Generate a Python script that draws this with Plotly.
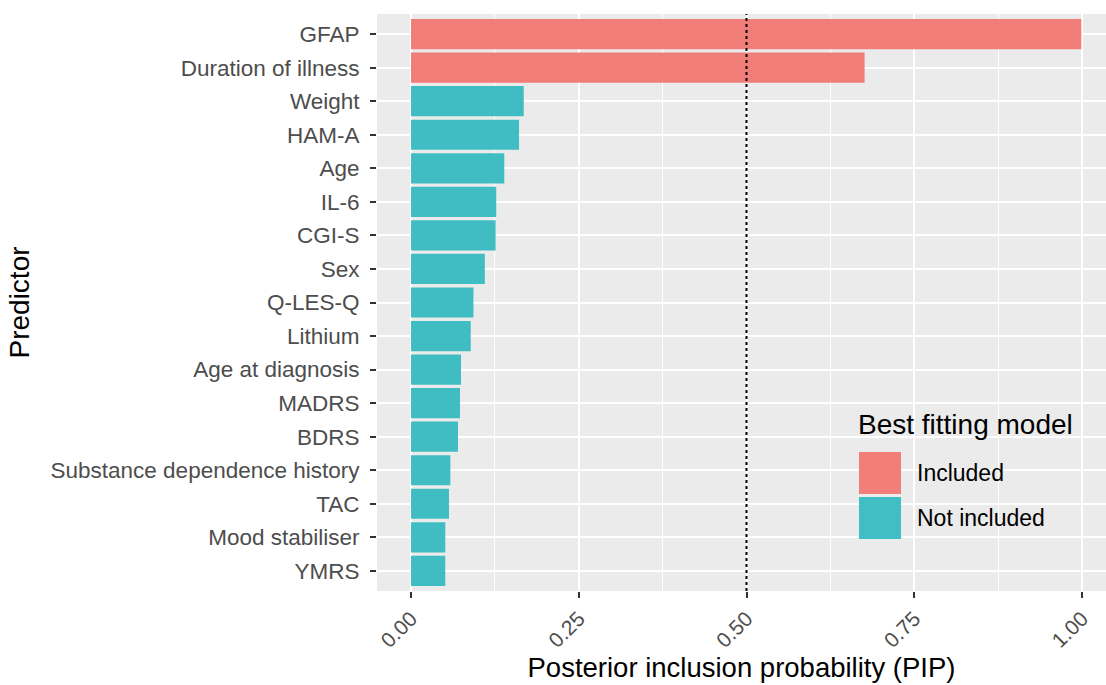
import plotly.graph_objects as go

# ---- data ----
predictors = ["GFAP", "Duration of illness", "Weight", "HAM-A", "Age", "IL-6", "CGI-S",
              "Sex", "Q-LES-Q", "Lithium", "Age at diagnosis", "MADRS", "BDRS",
              "Substance dependence history", "TAC", "Mood stabiliser", "YMRS"]
pip = [0.999, 0.676, 0.168, 0.161, 0.139, 0.127, 0.126,
       0.110, 0.093, 0.089, 0.0745, 0.073, 0.070,
       0.0586, 0.0566, 0.0511, 0.051]
best_model = ["Included", "Included"] + ["Not included"] * 15
groups = ["Included", "Not included"]
group_colors = {"Included": "#F27570", "Not included": "#34BABF"}
x_ticks = [0.0, 0.25, 0.5, 0.75, 1.0]
x_tick_labels = ["0.00", "0.25", "0.50", "0.75", "1.00"]
threshold = 0.5

FONT = "Liberation Sans, Arial, Helvetica, sans-serif"

fig = go.Figure()
for g in groups:
    ys = [p for p, m in zip(predictors, best_model) if m == g]
    xs = [v for v, m in zip(pip, best_model) if m == g]
    fig.add_trace(go.Bar(
        x=xs, y=ys, name=g, orientation="h", width=0.9,
        marker=dict(color=group_colors[g], line=dict(width=0)),
        opacity=0.93, showlegend=False,
    ))

fig.add_vline(x=threshold, line=dict(color="black", width=2, dash="dot"))

W, H = 1106, 685
L, R, T, B = 377, 0, 14, 94
pw, ph = W - L - R, H - T - B

def px(x):
    return (x - L) / pw

def py(y):
    return (H - B - y) / ph

# manual legend (ggplot-style)
shapes = [
    dict(type="rect", xref="paper", yref="paper", x0=px(843), x1=px(1093),
         y0=py(555), y1=py(397), fillcolor="white", line=dict(width=0), layer="above"),
]
annotations = [
    dict(text="Best fitting model", xref="paper", yref="paper", x=px(856), y=py(424),
         xanchor="left", yanchor="middle", showarrow=False,
         font=dict(family=FONT, size=28, color="black")),
]
key_tops = [452, 497]
for g, top in zip(groups, key_tops):
    shapes.append(dict(type="rect", xref="paper", yref="paper", x0=px(859), x1=px(901),
                       y0=py(top + 42), y1=py(top), fillcolor=group_colors[g],
                       opacity=0.93, line=dict(width=0), layer="above"))
    annotations.append(dict(text=g, xref="paper", yref="paper", x=px(915), y=py(top + 21),
                            xanchor="left", yanchor="middle", showarrow=False,
                            font=dict(family=FONT, size=23, color="black")))

fig.update_layout(
    width=W, height=H,
    margin=dict(l=L, r=R, t=T, b=B, autoexpand=False),
    paper_bgcolor="white", plot_bgcolor="#EBEBEB",
    barmode="overlay", bargap=0.1,
    font=dict(family=FONT),
    shapes=shapes, annotations=annotations,
    xaxis=dict(
        range=[-0.0507, 1.0358], tickvals=x_ticks, ticktext=x_tick_labels,
        tickangle=-45, tickfont=dict(family=FONT, size=21, color="#4D4D4D"),
        ticks="outside", ticklen=6, tickwidth=2, tickcolor="#333333",
        showgrid=True, gridcolor="white", gridwidth=2.2, zeroline=False,
        minor=dict(dtick=0.125, tick0=0, showgrid=True, gridcolor="white", gridwidth=1.1),
        showline=False, automargin=False,
        title=dict(text="Posterior inclusion probability (PIP)", standoff=0,
                   font=dict(family=FONT, size=27.5, color="black")),
    ),
    yaxis=dict(
        categoryorder="array", categoryarray=predictors,
        range=[len(predictors) - 0.4, -0.6],
        tickfont=dict(family=FONT, size=22.5, color="#4D4D4D"),
        ticks="outside", ticklen=6, tickwidth=2, tickcolor="#333333",
        ticklabelstandoff=6,
        showgrid=True, gridcolor="white", gridwidth=2.2, zeroline=False,
        showline=False, automargin=False,
        title=dict(text="Predictor", standoff=12,
                   font=dict(family=FONT, size=28, color="black")),
    ),
)

fig.write_html("out.html", post_script="document.body.style.margin='0';",
               config={"displayModeBar": False})
